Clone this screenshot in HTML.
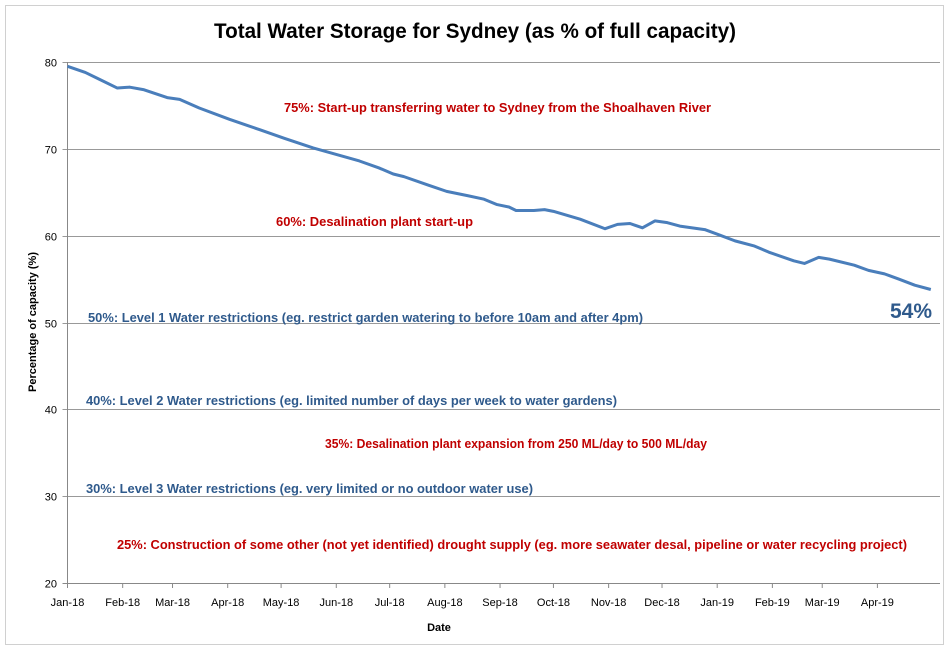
<!DOCTYPE html>
<html><head><meta charset="utf-8"><style>
body{margin:0;background:#fff;font-family:"Liberation Sans",sans-serif}
svg text{font-family:"Liberation Sans",sans-serif}
</style></head><body>
<svg width="949" height="649" xmlns="http://www.w3.org/2000/svg">
<rect x="0" y="0" width="949" height="649" fill="#fff"/>
<rect x="5.5" y="5.5" width="938" height="639" fill="#fff" stroke="#d0d0d0"/>
<text x="214" y="38" textLength="522" lengthAdjust="spacingAndGlyphs" font-size="21" font-weight="bold" fill="#000">Total Water Storage for Sydney (as % of full capacity)</text>
<g id="grid"></g><g id="axes"></g><g id="series"></g><g id="notes"></g>
<text x="36" y="322" transform="rotate(-90 36 322)" text-anchor="middle" font-size="11" font-weight="bold">Percentage of capacity (%)</text>
<text x="439" y="631" text-anchor="middle" font-size="11" font-weight="bold">Date</text>
<text x="932" y="318" text-anchor="end" font-size="21" font-weight="bold" fill="#2f5a8c">54%</text>
</svg>
<script>
const yTicks=[20,30,40,50,60,70,80];
const xTickLabels=["Jan-18","Feb-18","Mar-18","Apr-18","May-18","Jun-18","Jul-18","Aug-18","Sep-18","Oct-18","Nov-18","Dec-18","Jan-19","Feb-19","Mar-19","Apr-19"];
const xTickDays=[0,31,59,90,120,151,181,212,243,273,304,334,365,396,424,455];
const days=[0,10,18,28,35,43,56,63,74,91,108,122,138,152,164,175,183,189,203,213,225,234,241,248,252,262,268,273,288,302,309,316,323,330,337,344,358,366,375,386,394,408,414,422,428,442,450,459,467,476,485];
const values=[79.5,78.8,78,77,77.1,76.8,75.9,75.7,74.7,73.4,72.2,71.2,70.1,69.3,68.6,67.8,67.1,66.8,65.8,65.1,64.6,64.2,63.6,63.3,62.9,62.9,63,62.8,61.9,60.8,61.3,61.4,60.9,61.7,61.5,61.1,60.7,60.1,59.4,58.8,58.1,57.1,56.8,57.5,57.3,56.6,56,55.6,55,54.3,53.8];
const notes=[
 ["75%: Start-up transferring water to Sydney from the Shoalhaven River",284,112,"#c00000",427],
 ["60%: Desalination plant start-up",276,226,"#c00000",197],
 ["50%: Level 1 Water restrictions (eg. restrict garden watering to before 10am and after 4pm)",88,322,"#2f5a8c",555],
 ["40%: Level 2 Water restrictions (eg. limited number of days per week to water gardens)",86,405,"#2f5a8c",531],
 ["35%: Desalination plant expansion from 250 ML/day to 500 ML/day",325,448,"#c00000",382],
 ["30%: Level 3 Water restrictions (eg. very limited or no outdoor water use)",86,493,"#2f5a8c",447],
 ["25%: Construction of some other (not yet identified) drought supply (eg. more seawater desal, pipeline or water recycling project)",117,549,"#c00000",790]];
const X0=67.5,PXD=1.78,Y80=62,Y20=583,XR=932;
const sx=d=>X0+d*PXD, sy=v=>Y20-(v-20)*(Y20-Y80)/60;
const NS="http://www.w3.org/2000/svg";
function mk(t,a,p){const e=document.createElementNS(NS,t);for(const k in a)e.setAttribute(k,a[k]);p.appendChild(e);return e;}
const g=document.getElementById('grid'),ax=document.getElementById('axes'),se=document.getElementById('series'),no=document.getElementById('notes');
yTicks.forEach(v=>{const y=Math.round(sy(v))+0.5;
 const l=mk('line',{x1:X0-5,x2:XR+8,y1:y,y2:y,stroke:v==20?'#888':'#999','stroke-width':1},g);
 
 
 const t=mk('text',{x:57,y:y+4,'text-anchor':'end','font-size':11},ax);t.textContent=v;
 
 });
const yl=mk('line',{x1:X0,x2:X0,y1:Y80,y2:Y20,stroke:'#888'},ax);


xTickDays.forEach((d,i)=>{const x=sx(d);
 mk('line',{x1:x,x2:x,y1:Y20,y2:Y20+5,stroke:'#888'},ax);
 const t=mk('text',{x:x,y:606,'text-anchor':'middle','font-size':11},ax);t.textContent=xTickLabels[i];
 
 });
const p=mk('polyline',{points:days.map((d,i)=>sx(d)+','+sy(values[i])).join(' '),fill:'none',stroke:'#4a7ebb','stroke-width':3,'stroke-linejoin':'round'},se);


notes.forEach(n=>{const t=mk('text',{x:n[1],y:n[2],'font-size':12.5,'font-weight':'bold',fill:n[3],textLength:n[4],lengthAdjust:'spacingAndGlyphs'},no);t.textContent=n[0];
 
 });
</script>
</body></html>
